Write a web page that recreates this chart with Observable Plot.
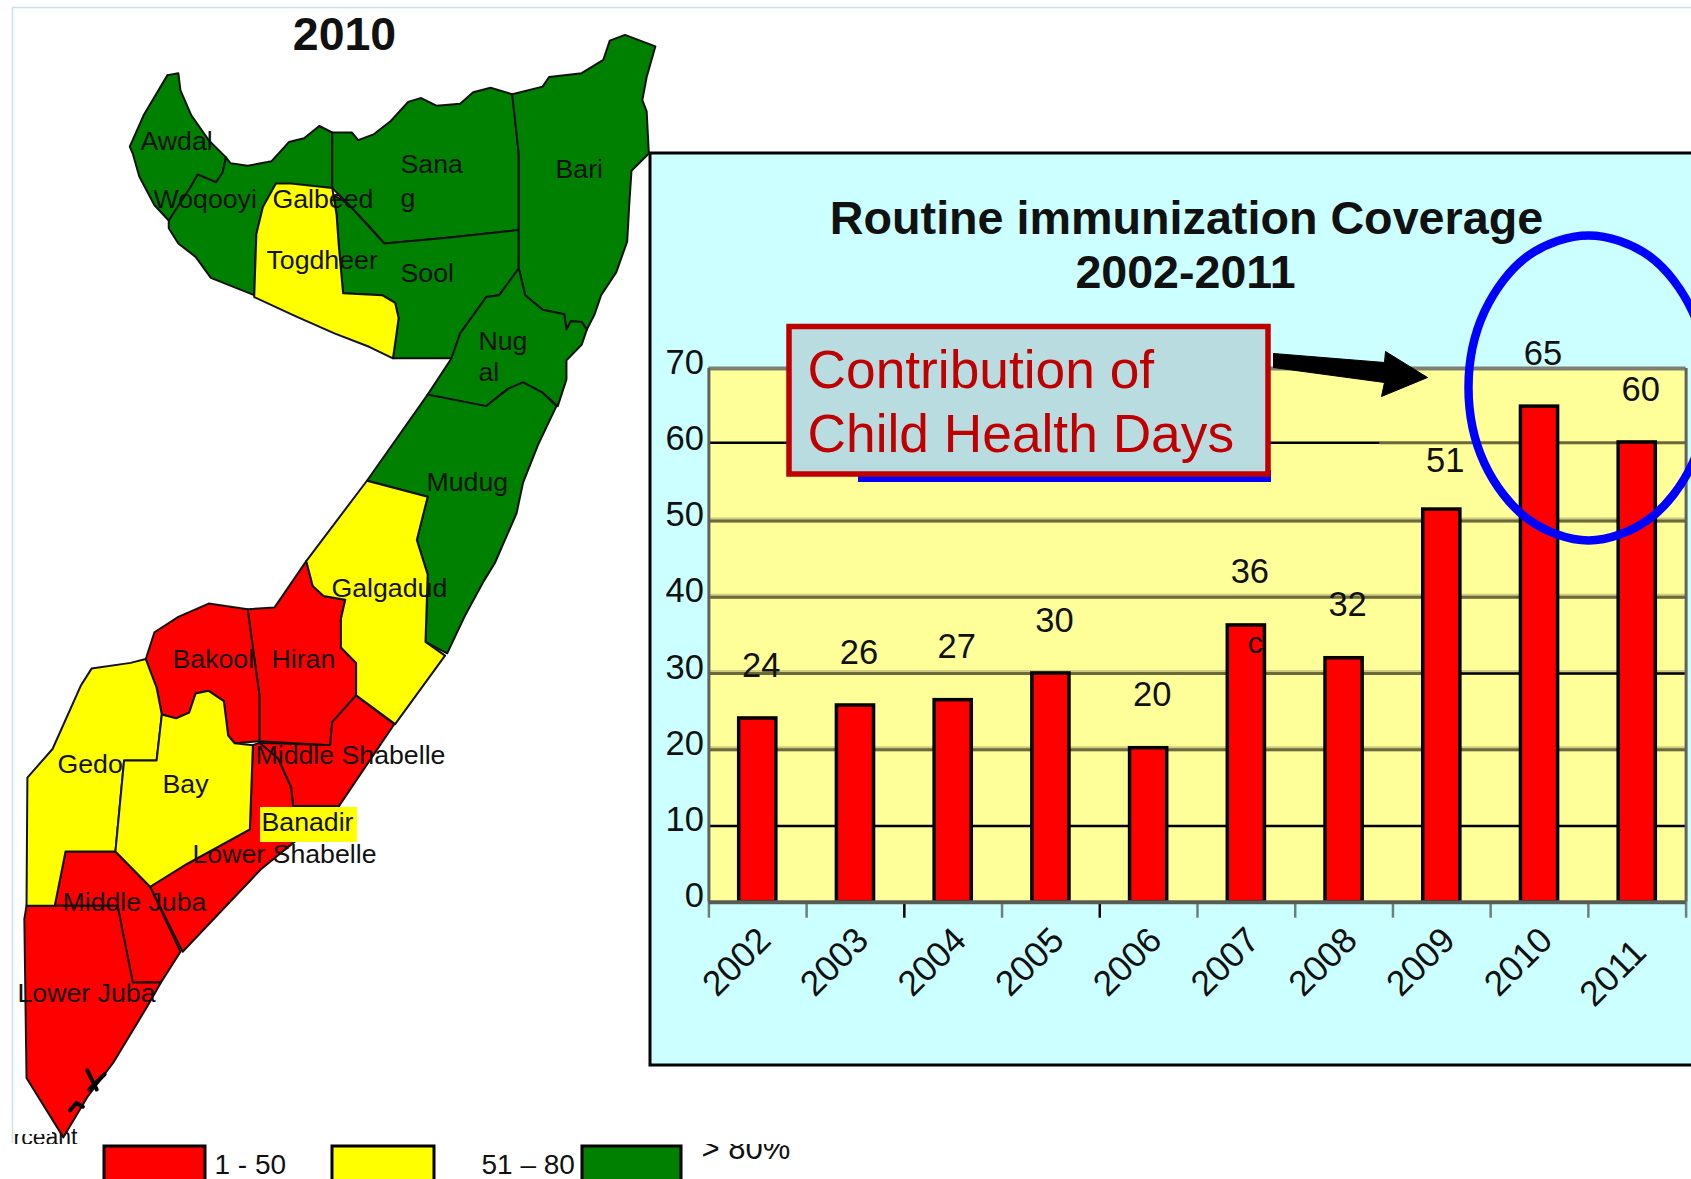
<!DOCTYPE html>
<html>
<head>
<meta charset="utf-8">
<script src="https://cdn.jsdelivr.net/npm/d3@7"></script>
<script src="https://cdn.jsdelivr.net/npm/@observablehq/plot@0.6"></script>
<style>
html,body{margin:0;padding:0;background:#fff;}
#page{position:relative;width:1691px;height:1179px;overflow:hidden;background:#fff;}
#page svg{position:absolute;left:0;top:0;}
</style>
</head>
<body>
<div id="page"></div>
<script>
// ---- bar chart data
const years = [2002,2003,2004,2005,2006,2007,2008,2009,2010,2011];
const coverage = [24.1,25.8,26.5,30,20.2,36.3,32,51.5,65,60.3];
const coverageLabels = ["24","26","27","30","20","36","32","51","65","60"];
const yTicks = [0,10,20,30,40,50,60,70];
const tickEdges = [2001.5,2002.5,2003.5,2004.5,2005.5,2006.5,2007.5,2008.5,2009.5,2010.5,2011.5];

// ---- map outlines (crop units)
const awdal = [[385,195],[410,190],[415,235],[440,300],[480,365],[520,410],[512,450],[497,475],[455,455],[437,490],[388,575],[355,535],[320,460],[305,400],[298,382],[330,300]];
const woqooyi = [[520,410],[530,425],[570,432],[625,420],[665,370],[700,360],[735,328],[765,345],[765,490],[635,480],[605,540],[590,610],[585,770],[485,725],[450,670],[410,635],[388,595],[388,575],[437,490],[455,455],[497,475],[512,450]];
const togdheer = [[635,478],[670,478],[765,490],[775,560],[780,640],[790,765],[880,770],[910,790],[918,830],[912,880],[905,935],[850,905],[770,870],[680,825],[585,775],[590,610],[605,540]];
const sanaag = [[765,345],[810,345],[825,365],[860,350],[900,315],[940,265],[970,255],[1005,275],[1060,270],[1090,240],[1130,228],[1180,245],[1195,400],[1195,600],[1030,620],[885,635],[850,590],[800,530],[765,490]];
const sool = [[770,510],[800,530],[885,635],[1030,620],[1195,600],[1195,700],[1150,770],[1120,775],[1060,870],[1040,935],[905,935],[912,880],[918,830],[910,790],[880,770],[790,765],[780,640],[775,560]];
const bari = [[1180,245],[1250,225],[1265,200],[1340,190],[1390,155],[1405,105],[1440,90],[1510,120],[1490,200],[1480,260],[1490,290],[1495,400],[1455,445],[1450,530],[1445,630],[1420,710],[1385,770],[1370,820],[1352,860],[1340,840],[1315,838],[1305,860],[1300,820],[1250,808],[1210,770],[1195,700],[1195,600],[1195,400]];
const nugal = [[1195,700],[1210,770],[1250,808],[1300,820],[1305,860],[1315,838],[1340,840],[1352,860],[1340,900],[1305,940],[1305,990],[1285,1060],[1250,1025],[1205,998],[1170,1015],[1120,1060],[985,1030],[1040,935],[1060,870],[1120,775],[1150,770]];
const mudug = [[985,1030],[1120,1060],[1170,1015],[1205,998],[1250,1025],[1282,1060],[1240,1160],[1205,1260],[1190,1340],[1140,1470],[1115,1516],[1070,1610],[1030,1706],[980,1676],[985,1516],[985,1500],[960,1410],[985,1297],[845,1255]];
const galgadud = [[845,1255],[985,1297],[960,1410],[985,1500],[980,1676],[1025,1712],[910,1891],[820,1816],[820,1731],[785,1691],[785,1616],[795,1566],[745,1556],[720,1530],[705,1465]];
const hiran = [[705,1465],[720,1530],[745,1556],[795,1566],[785,1616],[785,1691],[820,1731],[820,1816],[765,1886],[760,1946],[597,1936],[597,1816],[585,1716],[570,1591],[632,1586]];
const bakool = [[570,1591],[480,1576],[410,1611],[355,1651],[335,1721],[360,1796],[372,1866],[405,1876],[435,1861],[450,1811],[480,1804],[515,1831],[525,1921],[540,1941],[597,1936],[597,1816],[585,1716]];
const gedo = [[335,1721],[300,1731],[210,1746],[185,1791],[120,1956],[62,2031],[60,2366],[125,2366],[150,2224],[265,2224],[285,1986],[360,1986],[372,1866],[360,1796]];
const bay = [[372,1866],[405,1876],[435,1861],[450,1811],[480,1804],[515,1831],[525,1921],[540,1941],[582,1946],[575,2166],[430,2256],[345,2316],[265,2224],[285,1986],[360,1986]];
const middleShabelle = [[820,1816],[908,1891],[780,2106],[675,2106],[670,2056],[640,1981],[597,1940],[760,1946],[765,1886]];
const lowerShabelle = [[582,1946],[597,1940],[640,1981],[670,2056],[675,2106],[780,2106],[670,2206],[600,2271],[420,2486],[345,2316],[430,2256],[575,2166]];
const middleJuba = [[150,2224],[265,2224],[345,2316],[415,2486],[370,2566],[305,2566],[270,2366],[125,2366]];
const lowerJuba = [[60,2366],[270,2366],[305,2566],[370,2566],[340,2626],[260,2776],[200,2866],[145,2971],[60,2816],[55,2400]];
const islands = [[[200,2796],[222,2846]],[[240,2806],[205,2846]],[[160,2901],[175,2881],[190,2891]]];

const redRegions = {hiran,bakool,middleShabelle,lowerShabelle,middleJuba,lowerJuba};
const yellowRegions = {togdheer,galgadud,gedo,bay};
const greenRegions = {awdal,woqooyi,sanaag,sool,bari,nugal,mudug};

// ---- map labels
const mapLabels = ["Awdal","Woqooyi","Galbeed","Sana","g","Bari","Togdheer","Sool","Nug","al","Mudug","Galgadud","Bakool","Hiran","Gedo","Bay","Middle Shabelle","Banadir","Lower Shabelle","Middle Juba","Lower Juba"];
const mapLabelX = [140,153,272,400,400,555,266,400,478,478,426,331,172,271,57,162,255,261,192,62,17];
const mapLabelY = [141,199,199,164,198,169,260,273,341,372,482,588,659,659,764,784,755,822,854,902,993];

// ---- legend
const legendLabels = ["1 - 50","51 – 80","> 80%"];
const legendFrom = [104,332,582];
const legendTo = [205,434,681];
const legendTextX = [214,481,701];
const legendTextY = [1165,1165,1149];
const legendTextSize = [28,28,31];

const cropX = 1568/680, cropY = 1568/600;
const rows = (regions) => Object.entries(regions).flatMap(([name, pts]) =>
  [...pts, pts[0]].map(([x,y]) => ({name, x:x/cropX, y:y/cropY})));

const pixelScales = {
  width:1691, height:1179, margin:0,
  x:{domain:[0,1691],axis:null}, y:{domain:[1179,0],axis:null},
  style:{background:"transparent",fontFamily:"Liberation Sans, Arial, sans-serif",maxWidth:"none",color:"#000",overflow:"hidden"}
};
const outline = {x:"x",y:"y",z:"name",stroke:"#111",strokeWidth:2,strokeLinejoin:"round"};

// ---- layer 1: frame, map, legend, panel, titles
const base = Plot.plot({...pixelScales, marks:[
  Plot.line([{x:12,y:1142},{x:12,y:7},{x:1691,y:7}],{x:"x",y:"y",stroke:"#c6e4e8",strokeWidth:1.5}),
  Plot.rect([{}],{x1:()=>650,x2:()=>1700,y1:()=>153,y2:()=>1065,fill:"#ccffff",stroke:"#000",strokeWidth:3}),
  Plot.text(["rceant"],{x:()=>13,y:()=>1137,text:d=>d,fontSize:23,textAnchor:"start",lineAnchor:"middle",fill:"#111"}),
  Plot.rect([{}],{x1:()=>13,x2:()=>52,y1:()=>1118,y2:()=>1134,fill:"#fff"}),
  Plot.rect([{}],{x1:()=>13,x2:()=>90,y1:()=>1144,y2:()=>1160,fill:"#fff"}),
  Plot.line(rows(greenRegions),{...outline,fill:"#008000"}),
  Plot.line(rows(redRegions),{...outline,fill:"#ff0000"}),
  Plot.line(rows(yellowRegions),{...outline,fill:"#ffff00"}),
  Plot.line(islands.flatMap((p,i)=>p.map(([x,y])=>({name:i,x:x/cropX,y:y/cropY}))),{...outline,strokeWidth:4,stroke:"#000"}),
  Plot.rect([{}],{x1:()=>260,x2:()=>357,y1:()=>807,y2:()=>842,fill:"#ffff00"}),
  Plot.text(mapLabels,{x:(_,i)=>mapLabelX[i],y:(_,i)=>mapLabelY[i],text:d=>d,textAnchor:"start",lineAnchor:"middle",fontSize:26.7,fill:"#111"}),
  Plot.text(["2010"],{x:()=>344,y:()=>35,text:d=>d,fontSize:46.5,fontWeight:"bold",lineAnchor:"middle",fill:"#111"}),
  Plot.rect(legendLabels,{x1:(_,i)=>legendFrom[i],x2:(_,i)=>legendTo[i],y1:()=>1146,y2:()=>1190,
    fill:(_,i)=>["#ff0000","#ffff00","#008000"][i],stroke:"#000",strokeWidth:3}),
  Plot.text(legendLabels,{x:(_,i)=>legendTextX[i],y:(_,i)=>legendTextY[i],text:d=>d,textAnchor:"start",lineAnchor:"middle",fontSize:(_,i)=>legendTextSize[i],fill:"#111"}),
  Plot.rect([{}],{x1:()=>695,x2:()=>800,y1:()=>1125,y2:()=>1144,fill:"#fff"}),
  Plot.text(["Routine immunization Coverage"],{x:()=>1186,y:()=>219,text:d=>d,fontSize:46.7,fontWeight:"bold",lineAnchor:"middle",fill:"#111"}),
  Plot.text(["2002-2011"],{x:()=>1185,y:()=>273,text:d=>d,fontSize:46.6,fontWeight:"bold",lineAnchor:"middle",fill:"#111"})
]});

// ---- layer 2: the chart itself, with real value scales
const olive = "#6b6a3c", halo = "#cfcc80", grey = "#6e7f7a";
const left = 2001.5, right = 2011.5;
const chart = Plot.plot({
  width:1691, height:1179,
  marginLeft:708.4, marginRight:5.4, marginTop:368, marginBottom:277.3,
  x:{domain:[left,right],axis:null},
  y:{domain:[0,70],axis:null},
  style:{background:"transparent",fontFamily:"Liberation Sans, Arial, sans-serif",maxWidth:"none",color:"#111"},
  marks:[
    Plot.rect([{}],{x1:()=>left,x2:()=>right,y1:()=>0,y2:()=>70,fill:"#ffff99"}),
    Plot.ruleY([20,30,40,50],{x1:()=>left,x2:()=>right,stroke:halo,strokeWidth:5,dy:-1}),
    Plot.ruleY([50,40,20],{x1:()=>left,x2:()=>right,stroke:olive,strokeWidth:3}),
    Plot.ruleY([30],{x1:()=>left,x2:()=>2009,stroke:olive,strokeWidth:3}),
    Plot.ruleY([30],{x1:()=>2009,x2:()=>right,stroke:"#000",strokeWidth:2.5}),
    Plot.ruleY([60],{x1:()=>left,x2:()=>2008.37,stroke:"#000",strokeWidth:2.5,dy:-2}),
    Plot.ruleY([60],{x1:()=>2008.37,x2:()=>right,stroke:olive,strokeWidth:3,dy:-2}),
    Plot.ruleY([10],{x1:()=>left,x2:()=>right,stroke:"#000",strokeWidth:2.5}),
    Plot.ruleY([70],{x1:()=>left,x2:()=>right,stroke:"#808070",strokeWidth:4}),
    Plot.ruleX([left,right],{y1:()=>0,y2:()=>70,stroke:"#62625a",strokeWidth:3}),
    Plot.ruleX(tickEdges,{y1:()=>0,y2:()=>-2.1,stroke:d=>(d===2003.5||d===2005.5)?"#000":grey,strokeWidth:2.5}),
    Plot.rect(years,{x1:d=>d-0.19,x2:d=>d+0.19,y1:()=>0,y2:(_,i)=>coverage[i],fill:"#ff0000",stroke:"#000",strokeWidth:3.5}),
    Plot.ruleY([0],{x1:()=>left,x2:()=>right,stroke:"#5a5a55",strokeWidth:4}),
    Plot.axisY({ticks:yTicks,anchor:"left",tickSize:0,tickPadding:5,fontSize:34.5,label:null,dy:-6,fill:"#111"}),
    Plot.text(years.filter(d=>d!==2009),{x:d=>d,y:d=>coverage[years.indexOf(d)],text:d=>coverageLabels[years.indexOf(d)],dx:3.5,dy:-53,fontSize:34.5,lineAnchor:"middle",fill:"#111"}),
    Plot.text(years.filter(d=>d===2009),{x:d=>d,y:d=>coverage[years.indexOf(d)],text:d=>coverageLabels[years.indexOf(d)],dx:3.5,dy:-49,fontSize:34.5,lineAnchor:"middle",fill:"#111"}),
    Plot.text(["c"],{x:()=>2007.09,y:()=>34,text:d=>d,fontSize:30,lineAnchor:"middle",fill:"#111"}),
    Plot.text(years.filter(d=>d!==2011),{x:d=>d,y:()=>0,text:d=>String(d),rotate:-45,textAnchor:"end",lineAnchor:"middle",fontSize:35.5,dx:7,dy:32,fill:"#111"}),
    Plot.text(years.filter(d=>d===2011),{x:d=>d,y:()=>0,text:d=>String(d),rotate:-45,textAnchor:"end",lineAnchor:"middle",fontSize:35.5,dx:3,dy:44,fill:"#111"})
  ]
});

// ---- layer 3: annotations over the chart
const arrowShape = [[1273,353],[1384,362],[1385,351],[1427,377],[1381,396],[1384,382],[1273,367],[1273,353]];
const ringShape = [[1588,235],[1648,255],[1692,311],[1708,387],[1692,463],[1648,519],[1588,540],[1528,519],[1484,463],[1468,387],[1484,311],[1528,255]];
const overlay = Plot.plot({...pixelScales, marks:[
  Plot.rect([{}],{x1:()=>858,x2:()=>1271,y1:()=>470,y2:()=>482,fill:"#0000ff"}),
  Plot.rect([{}],{x1:()=>789,x2:()=>1268,y1:()=>326.5,y2:()=>474,fill:"#b9dce0",stroke:"#c00000",strokeWidth:5.5}),
  Plot.text(["Contribution of","Child Health Days"],{x:()=>807,y:(_,i)=>[370,434][i],text:d=>d,textAnchor:"start",lineAnchor:"middle",fontSize:53.3,fill:"#c00000"}),
  Plot.line(arrowShape,{x:d=>d[0],y:d=>d[1],fill:"#000",stroke:"#000",strokeWidth:1}),
  Plot.line(ringShape,{x:d=>d[0],y:d=>d[1],curve:"catmull-rom-closed",stroke:"#0000ff",strokeWidth:8.5})
]});

const page = document.getElementById("page");
page.append(base, chart, overlay);
</script>
</body>
</html>
